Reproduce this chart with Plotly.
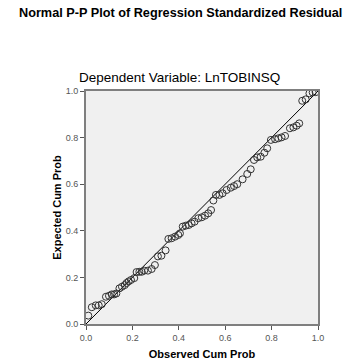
import plotly.graph_objects as go

observed_cum_prob = [0.010, 0.025, 0.042, 0.055, 0.068, 0.086, 0.099, 0.111, 0.121, 0.131,
                     0.144, 0.155, 0.167, 0.175, 0.184, 0.194, 0.208, 0.218, 0.230, 0.240,
                     0.251, 0.267, 0.283, 0.297, 0.310, 0.325, 0.343, 0.355, 0.369, 0.384,
                     0.398, 0.405, 0.417, 0.430, 0.443, 0.455, 0.468, 0.484, 0.499, 0.513,
                     0.527, 0.539, 0.549, 0.560, 0.575, 0.589, 0.606, 0.624, 0.638, 0.652,
                     0.675, 0.695, 0.710, 0.724, 0.738, 0.753, 0.769, 0.781, 0.797, 0.815,
                     0.829, 0.843, 0.858, 0.879, 0.894, 0.908, 0.919, 0.932, 0.947, 0.963,
                     0.977, 0.990]
expected_cum_prob = [0.036, 0.072, 0.080, 0.080, 0.085, 0.117, 0.121, 0.127, 0.127, 0.131,
                     0.153, 0.160, 0.167, 0.176, 0.183, 0.189, 0.197, 0.223, 0.224, 0.224,
                     0.229, 0.229, 0.236, 0.253, 0.290, 0.293, 0.316, 0.365, 0.368, 0.375,
                     0.382, 0.389, 0.418, 0.422, 0.425, 0.432, 0.439, 0.454, 0.458, 0.465,
                     0.475, 0.489, 0.530, 0.554, 0.554, 0.561, 0.575, 0.585, 0.592, 0.600,
                     0.621, 0.644, 0.664, 0.704, 0.715, 0.718, 0.735, 0.754, 0.790, 0.793,
                     0.797, 0.801, 0.807, 0.840, 0.844, 0.851, 0.861, 0.958, 0.964, 0.990,
                     0.994, 0.995]
ref_line = [0.0, 1.0]
tick_vals = [0.0, 0.2, 0.4, 0.6, 0.8, 1.0]
tick_text = ["0.0", "0.2", "0.4", "0.6", "0.8", "1.0"]

FONT = "Liberation Sans, Arial, sans-serif"

fig = go.Figure()
fig.add_trace(go.Scatter(x=ref_line, y=ref_line, mode="lines",
                         line=dict(color="black", width=1), hoverinfo="skip"))
fig.add_trace(go.Scatter(x=observed_cum_prob, y=expected_cum_prob, mode="markers",
                         marker=dict(symbol="circle-open", size=7,
                                     color="#333333", line=dict(width=1))))

axis_common = dict(range=[0, 1], tickvals=tick_vals, ticktext=tick_text,
                   ticks="outside", ticklen=4, tickcolor="#555555", tickwidth=1,
                   showgrid=False, zeroline=False, showline=True, linecolor="#7f7f7f",
                   linewidth=2, mirror=True, automargin=False,
                   tickfont=dict(family=FONT, size=9, color="#555555"))

fig.update_layout(
    template="none",
    width=346, height=360,
    margin=dict(l=86, r=28, t=91, b=36, pad=0),
    paper_bgcolor="white", plot_bgcolor="#f0f0f0",
    showlegend=False,
    xaxis=dict(**axis_common,
               title=dict(text="<b>Observed Cum Prob</b>", standoff=20,
                          font=dict(family=FONT, size=11, color="black"))),
    yaxis=dict(**axis_common,
               title=dict(text="<b>Expected Cum Prob</b>", standoff=2,
                          font=dict(family=FONT, size=11, color="black"))),
    annotations=[
        dict(text="<b>Normal P-P Plot of Regression Standardized Residual</b>",
             xref="paper", yref="paper", x=0.409, y=1.335, showarrow=False,
             xanchor="center", yanchor="middle",
             font=dict(family=FONT, size=12.7, color="black")),
        dict(text="Dependent Variable: LnTOBINSQ",
             xref="paper", yref="paper", x=0.405, y=1.056, showarrow=False,
             xanchor="center", yanchor="middle",
             font=dict(family=FONT, size=13.5, color="black")),
    ],
)

fig.write_html("out.html", config={"displayModeBar": False},
               post_script="document.body.style.margin='0';")
